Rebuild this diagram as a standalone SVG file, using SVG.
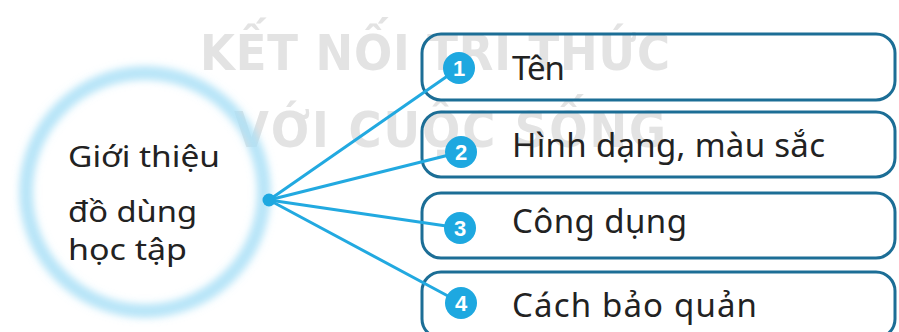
<svg xmlns="http://www.w3.org/2000/svg" width="899" height="332" viewBox="0 0 899 332">
  <defs>
    <filter id="glow" x="-30%" y="-30%" width="160%" height="160%">
      <feGaussianBlur stdDeviation="5"/>
    </filter>
    <style>
      .wm { font-family: "DejaVu Sans Condensed", "DejaVu Sans", sans-serif; font-weight: bold; font-size: 50px; fill: #e3e3e3; }
      .box { fill: none; stroke: #1c6e96; stroke-width: 3; }
      .link { stroke: #22a9e0; stroke-width: 3; fill: none; stroke-linecap: round; }
      .badge { fill: #1ea8e0; }
      .num { font-family: "Liberation Sans", Arial, sans-serif; font-weight: bold; font-size: 22px; fill: #ffffff; text-anchor: middle; }
      .label { font-family: "Noto Sans", "Open Sans", sans-serif; font-size: 33px; fill: #222222; }
      .main { font-family: "Noto Sans", "Open Sans", sans-serif; font-size: 29px; fill: #222222; }
    </style>
  </defs>
  <rect width="899" height="332" fill="#ffffff"/>

  <!-- watermark -->
  <g id="watermark">
    <text class="wm" x="200" y="70" textLength="470">KẾT NỐI TRI THỨC</text>
    <text class="wm" x="234" y="147" textLength="432">VỚI CUỘC SỐNG</text>
  </g>

  <!-- central node -->
  <g id="center">
    <circle cx="145" cy="192" r="119" fill="none" stroke="#9ad9f4" stroke-width="10" filter="url(#glow)"/>
    <circle cx="145" cy="192" r="119" fill="none" stroke="#cdeefb" stroke-width="3" filter="url(#glow)"/>
    <text class="main" x="68" y="167" textLength="152" lengthAdjust="spacingAndGlyphs">Giới thiệu</text>
    <text class="main" x="68" y="222" textLength="129" lengthAdjust="spacingAndGlyphs">đồ dùng</text>
    <text class="main" x="68" y="260" textLength="119" lengthAdjust="spacingAndGlyphs">học tập</text>
  </g>

  <!-- boxes -->
  <g id="item1">
    <rect class="box" x="422" y="34" width="473" height="66" rx="19"/>
  </g>
  <g id="item2">
    <rect class="box" x="422" y="112" width="473" height="65" rx="19"/>
  </g>
  <g id="item3">
    <rect class="box" x="422" y="193" width="473" height="65" rx="19"/>
  </g>
  <g id="item4">
    <rect class="box" x="422" y="272" width="473" height="66" rx="19"/>
  </g>

  <!-- connectors -->
  <g id="connectors">
    <line class="link" x1="269" y1="200" x2="459" y2="68"/>
    <line class="link" x1="269" y1="200" x2="461" y2="152"/>
    <line class="link" x1="269" y1="200" x2="460" y2="228"/>
    <line class="link" x1="269" y1="200" x2="461" y2="303"/>
    <circle cx="269" cy="200" r="6.5" fill="#1ea8e0"/>
  </g>

  <!-- badges and labels -->
  <g id="label1">
    <circle class="badge" cx="459" cy="68" r="16"/>
    <text class="num" x="459" y="76">1</text>
    <text class="label" x="512" y="80" textLength="53">Tên</text>
  </g>
  <g id="label2">
    <circle class="badge" cx="461" cy="152" r="16"/>
    <text class="num" x="461" y="160">2</text>
    <text class="label" x="512" y="157" textLength="313">Hình dạng, màu sắc</text>
  </g>
  <g id="label3">
    <circle class="badge" cx="460" cy="228" r="16"/>
    <text class="num" x="460" y="236">3</text>
    <text class="label" x="512" y="233" textLength="175">Công dụng</text>
  </g>
  <g id="label4">
    <circle class="badge" cx="461" cy="303" r="16"/>
    <text class="num" x="461" y="311">4</text>
    <text class="label" x="512" y="317" textLength="245">Cách bảo quản</text>
  </g>
</svg>
